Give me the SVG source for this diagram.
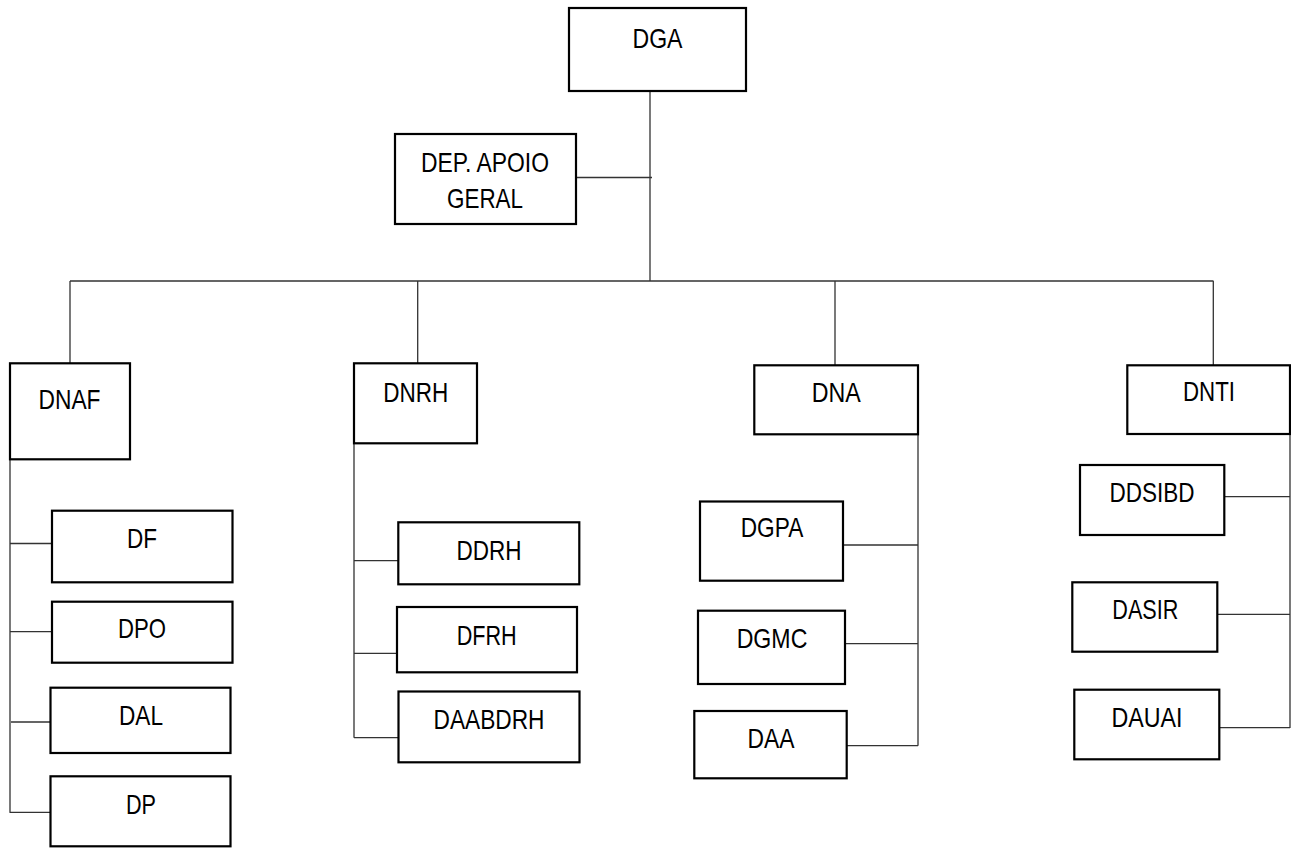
<svg xmlns="http://www.w3.org/2000/svg" width="1291" height="848" viewBox="0 0 1291 848">
<style>
.box{fill:#fff;stroke:#000;stroke-width:2.2}
.lbl{font-family:"Liberation Sans",Arial,sans-serif;font-size:28px;fill:#000;text-anchor:middle}
.con{fill:none;stroke:#333;stroke-width:1.3}
</style>
<rect width="1291" height="848" fill="#fff"/>
<g id="connectors">
<path class="con" d="M650,91V281M576,177.5H652"/>
<path class="con" d="M70,281H1213.5M70,281V363M417.7,281V363M835,281V365M1213.3,281V365"/>
<path class="con" d="M10,459V812.5M10,543.5H52M10,631.7H52M11,722H53M9.5,812.3H50"/>
<path class="con" d="M354,443V737.7M354,560.7H398M354,653.3H397M354,737.7H398.5"/>
<path class="con" d="M918,434V745.7M843,545H918M845,643.7H918M846.5,745.7H918"/>
<path class="con" d="M1290,434V728M1224,496.7H1290M1217,614.3H1290M1219,727.7H1290"/>
</g>
<g id="DGA"><rect class="box" x="569" y="8" width="177" height="83"/><text class="lbl" x="657.5" y="48" textLength="50" lengthAdjust="spacingAndGlyphs">DGA</text></g>
<g id="DEP"><rect class="box" x="395" y="134" width="181" height="90"/><text class="lbl" x="485" y="172.3" textLength="128" lengthAdjust="spacingAndGlyphs">DEP. APOIO</text><text class="lbl" x="485" y="207.5" textLength="76" lengthAdjust="spacingAndGlyphs">GERAL</text></g>
<g id="DNAF"><rect class="box" x="10" y="363.3" width="120" height="96"/><text class="lbl" x="69.5" y="409.3" textLength="62" lengthAdjust="spacingAndGlyphs">DNAF</text></g>
<g id="DF"><rect class="box" x="52" y="510.7" width="180.5" height="71.6"/><text class="lbl" x="142" y="548.3" textLength="30" lengthAdjust="spacingAndGlyphs">DF</text></g>
<g id="DPO"><rect class="box" x="52" y="601.7" width="180.5" height="61"/><text class="lbl" x="142" y="638.3" textLength="48" lengthAdjust="spacingAndGlyphs">DPO</text></g>
<g id="DAL"><rect class="box" x="50.5" y="687.7" width="180" height="65.3"/><text class="lbl" x="141" y="725" textLength="44" lengthAdjust="spacingAndGlyphs">DAL</text></g>
<g id="DP"><rect class="box" x="50.5" y="776.3" width="180" height="70"/><text class="lbl" x="141" y="814.3" textLength="30" lengthAdjust="spacingAndGlyphs">DP</text></g>
<g id="DNRH"><rect class="box" x="354" y="363.3" width="123" height="80"/><text class="lbl" x="415.8" y="402.3" textLength="65" lengthAdjust="spacingAndGlyphs">DNRH</text></g>
<g id="DDRH"><rect class="box" x="398.3" y="522.3" width="181" height="62"/><text class="lbl" x="489" y="560" textLength="65" lengthAdjust="spacingAndGlyphs">DDRH</text></g>
<g id="DFRH"><rect class="box" x="397" y="607" width="180" height="65.3"/><text class="lbl" x="486.7" y="645" textLength="60" lengthAdjust="spacingAndGlyphs">DFRH</text></g>
<g id="DAABDRH"><rect class="box" x="398.5" y="691.5" width="181" height="70.8"/><text class="lbl" x="489" y="729" textLength="111" lengthAdjust="spacingAndGlyphs">DAABDRH</text></g>
<g id="DNA"><rect class="box" x="754.3" y="365.3" width="163.7" height="69"/><text class="lbl" x="836.3" y="402.3" textLength="49" lengthAdjust="spacingAndGlyphs">DNA</text></g>
<g id="DGPA"><rect class="box" x="700" y="501.5" width="143" height="79.2"/><text class="lbl" x="772" y="536.8" textLength="62.5" lengthAdjust="spacingAndGlyphs">DGPA</text></g>
<g id="DGMC"><rect class="box" x="698" y="610.7" width="147" height="73.3"/><text class="lbl" x="772" y="648.3" textLength="70.7" lengthAdjust="spacingAndGlyphs">DGMC</text></g>
<g id="DAA"><rect class="box" x="694.3" y="711" width="152.4" height="67.3"/><text class="lbl" x="771" y="748.3" textLength="47" lengthAdjust="spacingAndGlyphs">DAA</text></g>
<g id="DNTI"><rect class="box" x="1127.3" y="365.3" width="162.7" height="68.7"/><text class="lbl" x="1209" y="401" textLength="52" lengthAdjust="spacingAndGlyphs">DNTI</text></g>
<g id="DDSIBD"><rect class="box" x="1080" y="465" width="144.3" height="70"/><text class="lbl" x="1152" y="501.7" textLength="85" lengthAdjust="spacingAndGlyphs">DDSIBD</text></g>
<g id="DASIR"><rect class="box" x="1072.3" y="582.3" width="145" height="69.4"/><text class="lbl" x="1145.3" y="619" textLength="66" lengthAdjust="spacingAndGlyphs">DASIR</text></g>
<g id="DAUAI"><rect class="box" x="1074.3" y="689.7" width="145" height="69.6"/><text class="lbl" x="1147" y="726.7" textLength="71" lengthAdjust="spacingAndGlyphs">DAUAI</text></g>
</svg>
